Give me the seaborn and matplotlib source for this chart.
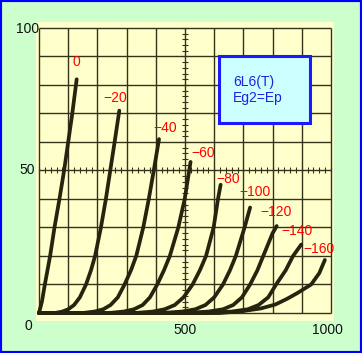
import numpy as np
import pandas as pd
import matplotlib
matplotlib.use("Agg")
import matplotlib.pyplot as plt
import seaborn as sns
from matplotlib.patches import Rectangle

# grid voltage of each curve (V)
grid_volts = [0, -20, -40, -60, -80, -100, -120, -140, -160]

# plate voltage Ep (V) / plate current Ip (mA)
ep_0 = [0, 10, 20, 38, 53, 70, 86, 100, 114, 129]
ip_0 = [0, 4, 10, 20, 30, 40, 50, 60, 70, 82]
ep_20 = [0, 55, 80, 100, 120, 140, 161, 178, 192, 212, 229, 244, 259, 275]
ip_20 = [0, 0, 0.5, 1.3, 2.8, 5.5, 10, 15, 20, 30, 40, 50, 60, 71]
ep_40 = [0, 150, 190, 220, 245, 270, 293, 315, 333, 357, 376, 393, 411]
ip_40 = [0, 0, 0.5, 1.3, 2.8, 5.5, 10, 15, 20, 30, 40, 50, 61]
ep_60 = [0, 240, 290, 325, 355, 380, 405, 428, 448, 477, 499, 519]
ip_60 = [0, 0, 0.5, 1.3, 2.8, 5.5, 10, 15, 20, 30, 40, 53]
ep_80 = [0, 330, 390, 430, 465, 495, 526, 551, 572, 598, 613, 622]
ip_80 = [0, 0, 0.5, 1.3, 2.8, 5.5, 10, 15, 20, 30, 40, 45]
ep_100 = [0, 420, 490, 535, 570, 600, 630, 654, 674, 704, 723]
ip_100 = [0, 0, 0.5, 1.3, 2.8, 5.5, 10, 15, 20, 30, 37]
ep_120 = [0, 500, 580, 630, 665, 695, 723, 748, 768, 800, 814]
ip_120 = [0, 0, 0.5, 1.3, 2.8, 5.5, 10, 15, 20, 28, 30.5]
ep_140 = [0, 580, 660, 715, 752, 785, 812, 845, 870, 898]
ip_140 = [0, 0, 0.5, 1.3, 2.8, 5.5, 10, 15, 20, 24]
ep_160 = [0, 620, 700, 760, 810, 850, 885, 932, 960, 979]
ip_160 = [0, 0, 0.7, 1.6, 3, 5, 7, 10, 14, 18.6]

ep_all = [ep_0, ep_20, ep_40, ep_60, ep_80, ep_100, ep_120, ep_140, ep_160]
ip_all = [ip_0, ip_20, ip_40, ip_60, ip_80, ip_100, ip_120, ip_140, ip_160]

# where each curve's grid-voltage label sits
label_x = [129, 262, 433, 562, 647, 741, 813, 885, 959]
label_y = [88, 75.4, 65, 56.3, 47, 42.3, 35.3, 28.8, 22.6]

sorok = []
for eg, eps, ips in zip(grid_volts, ep_all, ip_all):
    for e, i in zip(eps, ips):
        sorok.append({"Eg": eg, "Ep": e, "Ip": i})
df = pd.DataFrame(sorok)

sns.set_style("white")
plt.rcParams['font.family'] = ['Liberation Sans', 'DejaVu Sans']

fig = plt.figure(figsize=(3.62, 3.53), dpi=100, facecolor="#ccffcc")
ax = fig.add_axes([36 / 362, 32 / 353, 298 / 362, 299 / 353])
ax.set_facecolor("#ffffcc")
ax.set_xlim(-10.3, 1010.3)
ax.set_ylim(-2.81, 102.1)
for s in ax.spines.values():
    s.set_visible(False)
ax.set_xticks([])
ax.set_yticks([])

racs = "#33331a"
ax.vlines(np.arange(0, 1001, 100), 0, 100, color=racs, lw=1.0, zorder=1)
ax.hlines(np.arange(0, 101, 10), 0, 1000, color=racs, lw=1.0, zorder=1)

# small ticks along the centre cross
kx = np.arange(0, 1001, 20)
ax.plot(kx, np.full(len(kx), 50), ls="none", marker="|", ms=4.5, mew=0.8, color=racs, zorder=1)
ky = np.arange(0, 101, 2)
ax.plot(np.full(len(ky), 500), ky, ls="none", marker="_", ms=4.5, mew=0.8, color=racs, zorder=1)

sns.lineplot(data=df, x="Ep", y="Ip", units="Eg", estimator=None, sort=False,
             color="#24240f", lw=2.7, solid_capstyle="round", solid_joinstyle="round",
             legend=False, ax=ax, zorder=3)
ax.set_xlabel("")
ax.set_ylabel("")

for eg, lx, ly in zip(grid_volts, label_x, label_y):
    txt = "0" if eg == 0 else "\u2212" + str(abs(eg))
    ax.text(lx, ly, txt, color="#ff0000", fontsize=10, ha="center", va="center", zorder=4)

# axis numbers
ax.text(0, 99.5, "100", fontsize=10, ha="right", va="center", color="#111111")
ax.text(-13.7, 50.2, "50", fontsize=10, ha="right", va="center", color="#111111")
ax.text(-37.7, -4.6, "0", fontsize=10, ha="center", va="center", color="#111111")
ax.text(500, -5.8, "500", fontsize=10, ha="center", va="center", color="#111111")
ax.text(988, -5.8, "1000", fontsize=10, ha="center", va="center", color="#111111")

# tube name box
ax.add_patch(Rectangle((617, 66.8), 311, 23.4, facecolor="#ccffff", edgecolor="#1a1aff",
                       lw=2.2, zorder=5))
ax.text(664, 81.2, "6L6(T)", color="#2020e0", fontsize=10, ha="left", va="center", zorder=6)
ax.text(664, 75.6, "Eg2=Ep", color="#2020e0", fontsize=10, ha="left", va="center", zorder=6)

fig.patches.append(Rectangle((0, 0), 1, 1, transform=fig.transFigure, fill=False,
                             edgecolor="#0000ff", lw=3.0))

fig.savefig("out.png", dpi=100, facecolor=fig.get_facecolor())
